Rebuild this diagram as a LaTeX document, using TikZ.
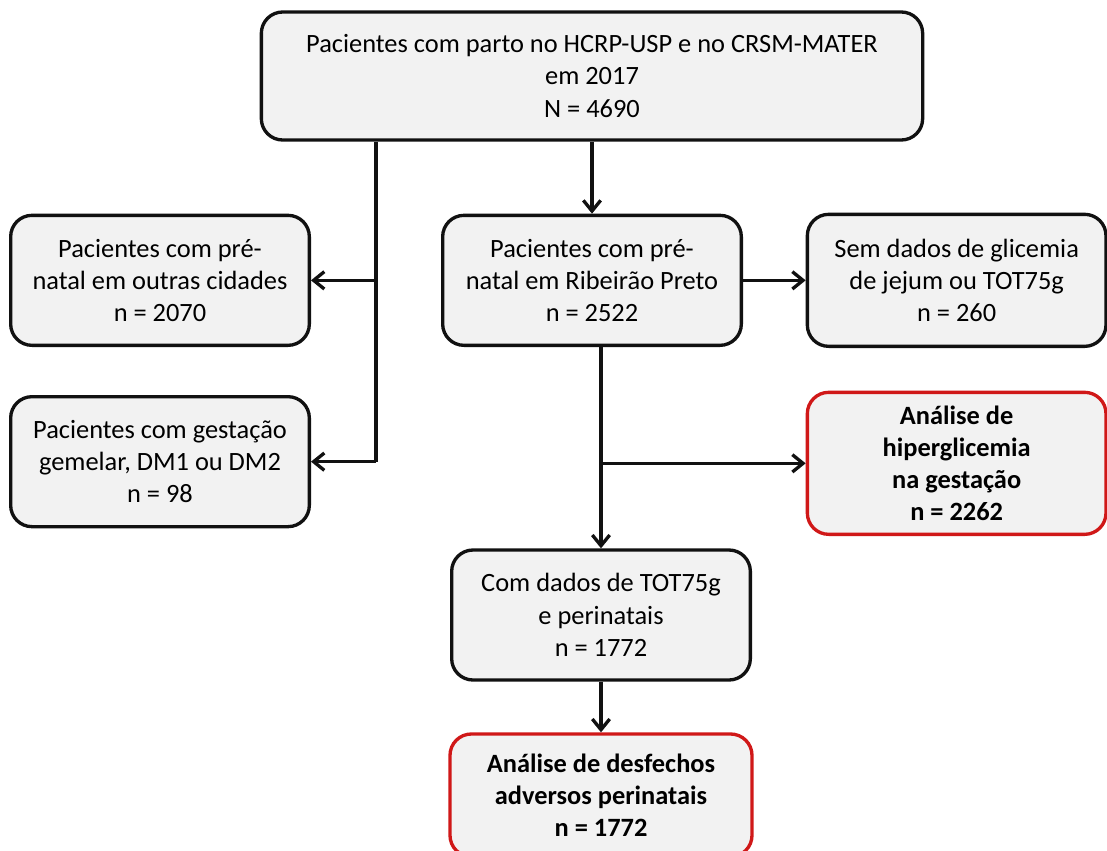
\documentclass[tikz,border=0pt]{standalone}
\usepackage{fontspec}
\setmainfont{Carlito}
\usetikzlibrary{arrows.meta,calc,positioning}
\definecolor{Panel}{HTML}{F2F2F2}
\definecolor{Alert}{HTML}{D01818}
\definecolor{Ink}{HTML}{111111}

\begin{document}
\begin{tikzpicture}[x=0.75pt, y=-0.75pt, >={Straight Barb[length=8pt,width=13pt]},
    stage/.style={draw=Ink, fill=Panel, line width=2.5pt, rounded corners=16pt, align=center,
      inner sep=2pt, minimum width=224pt, minimum height=97.5pt,
      font=\fontsize{19.8}{24.2}\selectfont},
    result/.style={stage, draw=Alert, font=\fontsize{19.8}{24.2}\selectfont\bfseries},
    flow/.style={->, draw=Ink, line width=2.5pt}]
    \useasboundingbox (0,0) rectangle (1107,850);
    \node[stage, minimum width=496pt, minimum height=96pt] (total) at (592,76) {
      Pacientes com parto no HCRP-USP e no CRSM-MATER\\ em 2017\\ N = 4690};
    \node[stage, below=54pt of total] (rp) {Pacientes com pré-\\natal em Ribeirão Preto\\n = 2522};
    \node[stage, left=97.5pt of rp] (outras) {Pacientes com pré-\\natal em outras cidades\\n = 2070};
    \node[stage, below=36pt of outras] (gemelar) {Pacientes com gestação\\gemelar, DM1 ou DM2\\n = 98};
    \node[stage, right=47pt of rp, minimum height=99pt] (semdados) {Sem dados de glicemia\\de jejum ou TOT75g\\n = 260};
    \node[result, below=32pt of semdados, minimum height=106.5pt] (hiper) {Análise de\\hiperglicemia\\na gestação\\n = 2262};
    \node[stage, below=151pt of rp, xshift=6.75pt] (tot) {Com dados de TOT75g\\e perinatais\\n = 1772};
    \node[result, below=38pt of tot, minimum width=226.5pt, minimum height=92pt] (desfechos) {Análise de desfechos\\adversos perinatais\\n = 1772};
    \coordinate (spine) at ($(outras.east)!0.5!(rp.west)$);
    \draw[draw=Ink, line width=2.5pt] (spine |- total.south) -- (spine |- gemelar.east);
    \draw[flow] (spine) -- (outras.east);
    \draw[flow] (spine |- gemelar.east) -- (gemelar.east);
    \draw[flow] (total.south) -- (rp.north);
    \draw[flow] (rp.east) -- (semdados.west);
    \draw[flow] (rp.south -| tot.north) -- (tot.north);
    \draw[flow] (tot.north |- hiper.west) -- (hiper.west);
    \draw[flow] (tot.south) -- (desfechos.north);
  \end{tikzpicture}
\end{document}
